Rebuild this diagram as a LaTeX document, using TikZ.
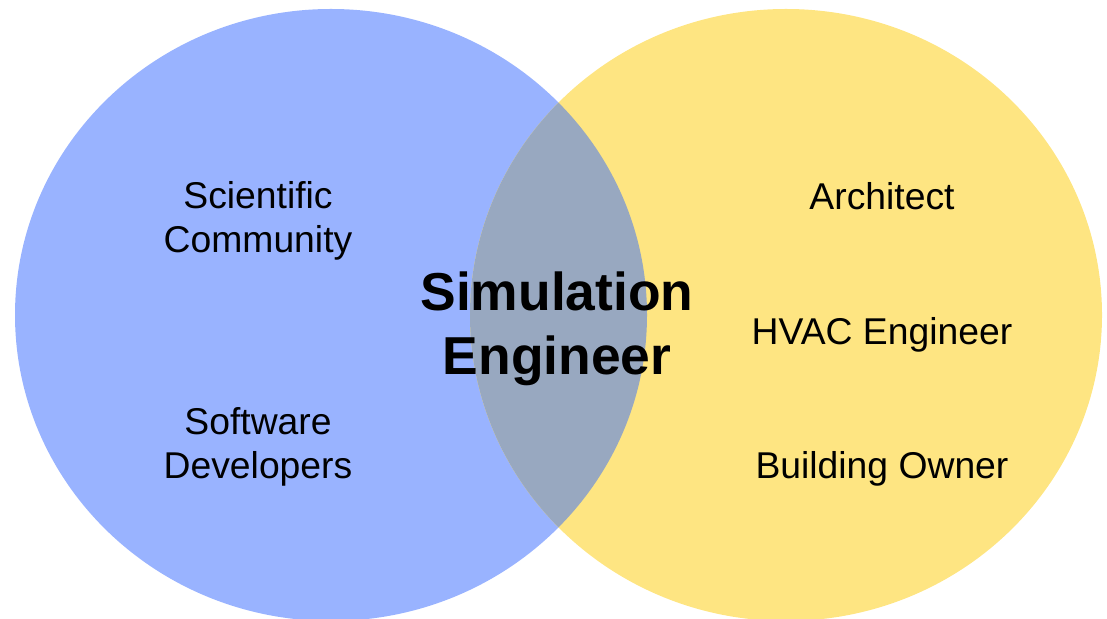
\documentclass[tikz,border=0pt]{standalone}
\usepackage{fontspec}
\setmainfont{Liberation Sans}
\usepackage{xcolor}
\definecolor{devblue}{RGB}{153,179,255}
\definecolor{useryellow}{RGB}{254,229,130}
\definecolor{overlapgray}{RGB}{152,168,192}
\tikzset{
  setL/.style ={fill=devblue},                 % Forschung / Software
  setR/.style ={fill=useryellow},              % Planung / Betrieb
  setX/.style ={fill=overlapgray},             % Schnittmenge
  role/.style ={align=center, inner sep=0pt, anchor=base,
                font=\fontsize{37.3}{44}\selectfont},
  core/.style ={align=center, inner sep=0pt, anchor=base,
                font=\fontsize{53.4}{64}\selectfont\bfseries},
}

\begin{document}
\begin{tikzpicture}[x=1pt, y=1pt]
  \clip (0,0) rectangle (1107,618);
  \coordinate (cl) at (331,303);
  \coordinate (cr) at (786,303);
  \path[setL] (cl) ellipse [x radius=316, y radius=306];
  \path[setR] (cr) ellipse [x radius=316, y radius=306];
  \begin{scope}
    \clip (cl) ellipse [x radius=316, y radius=306];
    \path[setX] (cr) ellipse [x radius=316, y radius=306];
  \end{scope}
  % base = Grundlinie der letzten Zeile
  \node[role] (sci)   at (258,365) {Scientific\\Community};
  \node[role] (soft)  at (258,139) {Software\\Developers};
  \node[role] (arch)  at (882,408) {Architect};
  \node[role] (hvac)  at (882,273) {HVAC Engineer};
  \node[role] (owner) at (882,139) {Building Owner};
  \node[core] (sim)   at (557,243) {Simulation\\Engineer};
\end{tikzpicture}
\end{document}
